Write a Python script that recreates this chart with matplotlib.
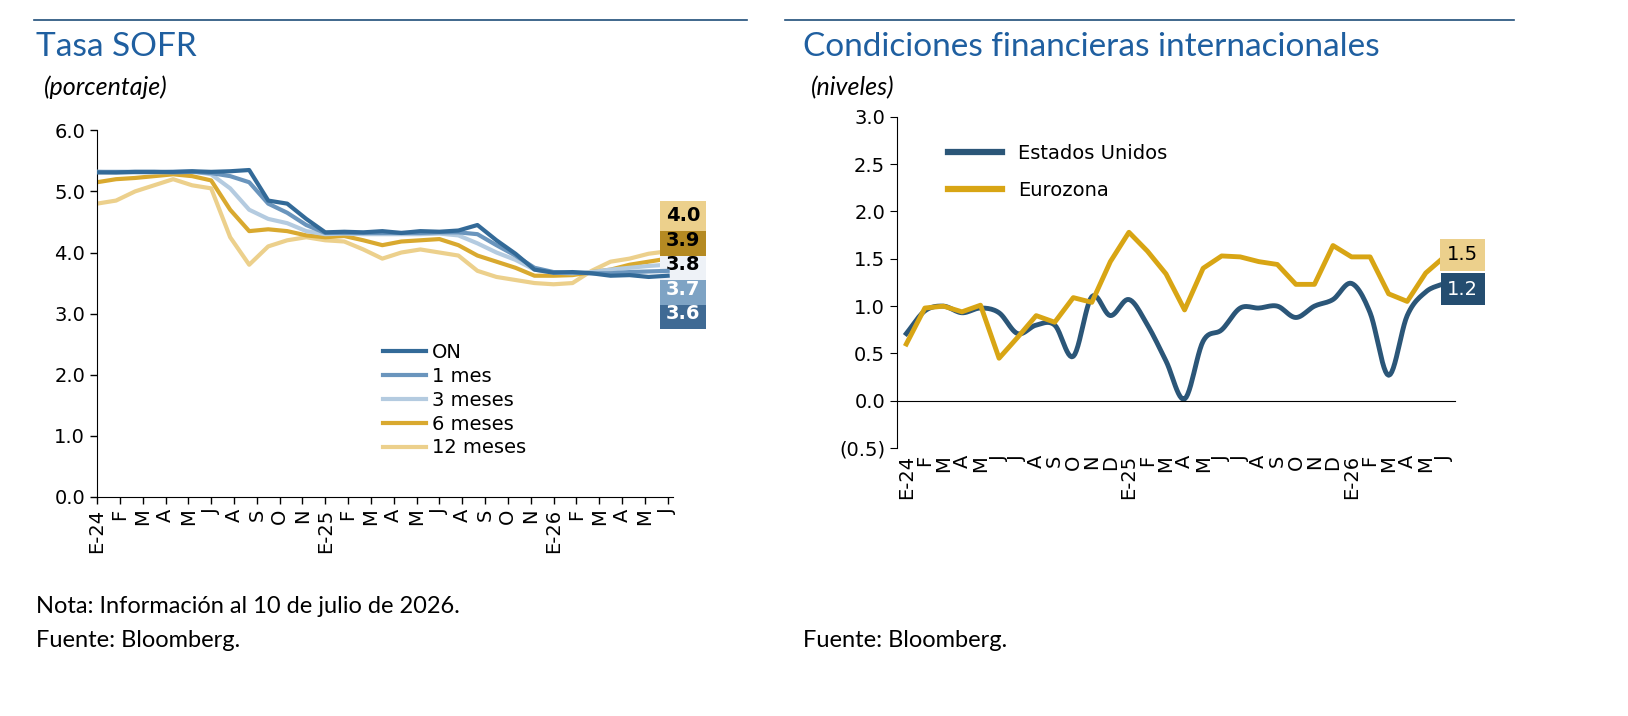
import matplotlib.pyplot as plt
import numpy as np

# ---------------- data ----------------
# Tasa SOFR, monthly readings (Jan-2024 .. Jul-2026)
sofr_months = np.arange(31)
on_rate = [5.31, 5.31, 5.32, 5.32, 5.32, 5.33, 5.32, 5.33, 5.35, 4.85, 4.80, 4.55,
           4.33, 4.34, 4.33, 4.35, 4.32, 4.35, 4.34, 4.36, 4.45, 4.20, 3.98, 3.72,
           3.67, 3.68, 3.66, 3.62, 3.63, 3.60, 3.62]
m1_rate = [5.32, 5.32, 5.32, 5.32, 5.31, 5.32, 5.30, 5.25, 5.15, 4.80, 4.65, 4.45,
           4.32, 4.32, 4.32, 4.32, 4.32, 4.32, 4.33, 4.33, 4.30, 4.12, 3.95, 3.75,
           3.68, 3.67, 3.66, 3.66, 3.68, 3.69, 3.70]
m3_rate = [5.32, 5.31, 5.31, 5.31, 5.32, 5.33, 5.28, 5.05, 4.70, 4.55, 4.48, 4.35,
           4.30, 4.31, 4.30, 4.30, 4.30, 4.30, 4.31, 4.28, 4.15, 4.00, 3.88, 3.72,
           3.67, 3.66, 3.68, 3.72, 3.75, 3.78, 3.80]
m6_rate = [5.15, 5.20, 5.22, 5.25, 5.28, 5.25, 5.18, 4.70, 4.35, 4.38, 4.35, 4.28,
           4.25, 4.27, 4.20, 4.12, 4.18, 4.20, 4.22, 4.12, 3.95, 3.85, 3.75, 3.62,
           3.62, 3.63, 3.68, 3.72, 3.80, 3.85, 3.90]
m12_rate = [4.80, 4.85, 5.00, 5.10, 5.20, 5.10, 5.05, 4.25, 3.80, 4.10, 4.20, 4.25,
            4.20, 4.18, 4.05, 3.90, 4.00, 4.05, 4.00, 3.95, 3.70, 3.60, 3.55, 3.50,
            3.48, 3.50, 3.70, 3.85, 3.90, 3.98, 4.02]
sofr_names = ["ON", "1 mes", "3 meses", "6 meses", "12 meses"]
sofr_last = [3.6, 3.7, 3.8, 3.9, 4.0]
sofr_ticklabels = (["E-24", "F", "M", "A", "M", "J", "A", "S", "O", "N"]
                   + ["E-25", "F", "M", "A", "M", "J", "A", "S", "O", "N"]
                   + ["E-26", "F", "M", "A", "M", "J"])

# Condiciones financieras, monthly (Jan-2024 .. Jun-2026)
fci_months = np.arange(30)
usa = [0.71, 0.95, 1.00, 0.93, 0.98, 0.93, 0.71, 0.80, 0.80, 0.47, 1.10, 0.90,
       1.07, 0.80, 0.42, 0.02, 0.63, 0.75, 0.98, 0.98, 1.00, 0.88, 1.00, 1.07,
       1.24, 0.93, 0.27, 0.90, 1.15, 1.24]
euro = [0.60, 0.98, 1.00, 0.94, 1.01, 0.45, 0.67, 0.90, 0.83, 1.09, 1.04, 1.47,
        1.78, 1.58, 1.34, 0.96, 1.40, 1.53, 1.52, 1.47, 1.44, 1.23, 1.23, 1.64,
        1.52, 1.52, 1.13, 1.05, 1.35, 1.52]
fci_ticklabels = ["E-24", "F", "M", "A", "M", "J", "J", "A", "S", "O", "N", "D",
                  "E-25", "F", "M", "A", "M", "J", "J", "A", "S", "O", "N", "D",
                  "E-26", "F", "M", "A", "M", "J"]

sofr_colors = ["#336a98", "#6a95bd", "#b4cbe0", "#d9a92f", "#ecd08c"]
box_colors = ["#3f6a94", "#7ea3c4", "#eef2f7", "#b58a22", "#ecd08c"]
box_text = ["white", "white", "black", "black", "black"]
c_usa = "#2b5678"
c_euro = "#d8a514"
title_col = "#1f5fa0"


def smooth(x, y, n=12):
    # Catmull-Rom drawing curve through the points
    x = np.asarray(x, float)
    y = np.asarray(y, float)
    px = np.concatenate([[2 * x[0] - x[1]], x, [2 * x[-1] - x[-2]]])
    py = np.concatenate([[2 * y[0] - y[1]], y, [2 * y[-1] - y[-2]]])
    xs, ys = [], []
    t = np.linspace(0, 1, n, endpoint=False)
    for i in range(1, len(px) - 2):
        for arr, out in ((px, xs), (py, ys)):
            p0, p1, p2, p3 = arr[i - 1], arr[i], arr[i + 1], arr[i + 2]
            out.extend(0.5 * (2 * p1 + (-p0 + p2) * t + (2 * p0 - 5 * p1 + 4 * p2 - p3) * t**2
                              + (-p0 + 3 * p1 - 3 * p2 + p3) * t**3))
    xs.append(x[-1])
    ys.append(y[-1])
    return xs, ys


fig = plt.figure(figsize=(16.28, 7.16), dpi=100)
tfont = "Lato"
fs = 14

# header lines and titles
for x0, x1 in ((0.021, 0.459), (0.482, 0.93)):
    fig.add_artist(plt.Line2D([x0, x1], [0.972, 0.972], color="#1f4e79", lw=1.2))
fig.text(0.022, 0.935, "Tasa SOFR", fontsize=24, color=title_col, family=tfont, va="center")
fig.text(0.027, 0.878, "(porcentaje)", fontsize=18, style="italic", family=tfont, va="center")
fig.text(0.493, 0.935, "Condiciones financieras internacionales", fontsize=24, color=title_col,
         family=tfont, va="center")
fig.text(0.498, 0.878, "(niveles)", fontsize=18, style="italic", family=tfont, va="center")
fig.text(0.022, 0.153, "Nota: Información al 10 de julio de 2026.", fontsize=17, family=tfont, va="center")
fig.text(0.022, 0.105, "Fuente: Bloomberg.", fontsize=17, family=tfont, va="center")
fig.text(0.493, 0.105, "Fuente: Bloomberg.", fontsize=17, family=tfont, va="center")

# ---------------- left chart ----------------
ax = fig.add_axes([0.0596, 0.306, 0.354, 0.512])
for name, vals, col in zip(sofr_names, [on_rate, m1_rate, m3_rate, m6_rate, m12_rate], sofr_colors):
    ax.plot(sofr_months, vals, color=col, lw=3, label=name)
for ln, z in zip(ax.lines, [5, 4, 3, 2, 1]):
    ln.set_zorder(z)
ax.set_ylim(0, 6)
ax.set_xlim(0, 30.3)
ax.set_yticks(np.arange(0, 6.1, 1))
ax.set_yticklabels([f"{v:.1f}" for v in np.arange(0, 6.1, 1)], fontsize=fs)
ticks = np.arange(len(sofr_ticklabels)) * 1.2
ax.set_xticks(ticks)
ax.set_xticklabels(sofr_ticklabels, rotation=90, fontsize=fs)
ax.spines[["top", "right"]].set_visible(False)
ax.tick_params(length=5, width=1)
ax.legend(loc="lower center", bbox_to_anchor=(0.62, 0.06), frameon=False, fontsize=fs,
          handlelength=2.2, labelspacing=0.25, handletextpad=0.3)
box_y = [3.0, 3.4, 3.8, 4.2, 4.6]
for v, y, fc, tc in zip(sofr_last, box_y, box_colors, box_text):
    ax.text(30.8, y, f"{v:.1f}", fontsize=fs, weight="bold", color=tc, va="center", ha="center",
            bbox=dict(boxstyle="square,pad=0.3", fc=fc, ec="none"), clip_on=False)

# ---------------- right chart ----------------
ax2 = fig.add_axes([0.551, 0.374, 0.343, 0.463])
ax2.plot(*smooth(fci_months, usa), color=c_usa, lw=3.5, label="Estados Unidos")
ax2.plot(fci_months, euro, color=c_euro, lw=3.5, label="Eurozona")
ax2.set_ylim(-0.5, 3.0)
ax2.set_xlim(-0.3, 29.6)
yt = np.arange(-0.5, 3.01, 0.5)
ax2.set_yticks(yt)
ax2.set_yticklabels([f"({abs(v):.1f})" if v < 0 else f"{v:.1f}" for v in yt], fontsize=fs)
ax2.spines[["top", "right"]].set_visible(False)
ax2.spines["bottom"].set_position(("data", 0))
ax2.set_xticks(fci_months - 0.5)
ax2.set_xticklabels([])
ax2.tick_params(axis="x", length=0)
ax2.tick_params(axis="y", length=5)
for m, lab in zip(fci_months, fci_ticklabels):
    ax2.text(m, -0.57, lab, rotation=90, fontsize=fs, ha="center", va="top")
leg2 = ax2.legend(loc="upper left", bbox_to_anchor=(0.06, 0.97), frameon=False, fontsize=fs,
                  handlelength=2.8, labelspacing=0.9)
for h in leg2.get_lines():
    h.set_linewidth(4.5)
ax2.text(30.0, 1.54, "1.5", fontsize=fs, va="center", ha="center",
         bbox=dict(boxstyle="square,pad=0.35", fc="#ecd08c", ec="none"), clip_on=False)
ax2.text(30.0, 1.18, "1.2", fontsize=fs, va="center", ha="center", color="white",
         bbox=dict(boxstyle="square,pad=0.35", fc="#244d70", ec="none"), clip_on=False)

fig.savefig("out.png", dpi=100)
